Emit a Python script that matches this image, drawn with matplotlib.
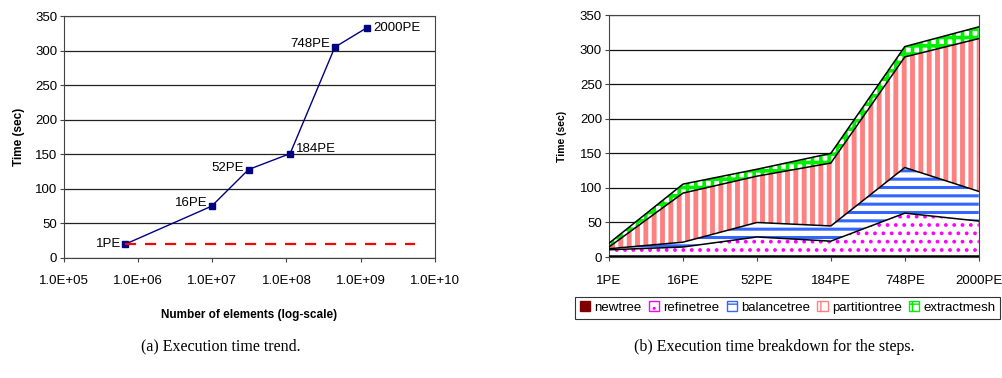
import numpy as np
import matplotlib.pyplot as plt
from matplotlib.patches import Patch

plt.rcParams['font.family'] = ['Liberation Sans', 'DejaVu Sans']

# (a) execution time trend
pe_labels = ["1PE", "16PE", "52PE", "184PE", "748PE", "2000PE"]
n_elements = [6.7e5, 9.8e6, 3.08e7, 1.12e8, 4.49e8, 1.21e9]
exec_time = [20, 75, 128, 151, 305, 333]
ideal_x = [6.7e5, 5.4e9]
ideal_y = [20, 20]
label_side = ["left", "left", "left", "right", "left", "right"]

# (b) breakdown per step
newtree = [1, 1, 1, 1, 1, 1]
refinetree = [9.5, 13.5, 28, 22, 62.5, 51]
balancetree = [1.5, 7, 21, 22, 66, 43]
partitiontree = [2.5, 71, 67, 91, 160, 221]
extractmesh = [5.5, 13, 10, 14, 15, 17]
steps = ["newtree", "refinetree", "balancetree", "partitiontree", "extractmesh"]

fig = plt.figure(figsize=(10.02, 3.78), dpi=100)

# ---- left chart
ax1 = fig.add_axes([0.0639, 0.3175, 0.370, 0.640])
ax1.plot(n_elements, exec_time, color="#000080", lw=1, marker="s", ms=5)
ax1.plot(ideal_x, ideal_y, color="#ff0000", lw=1.6, ls=(0, (5, 4)))
ax1.set_xscale("log")
ax1.set_xlim(1e5, 1e10)
ax1.set_ylim(0, 350)
ax1.set_yticks(np.arange(0, 351, 50))
ax1.set_xticks([10.0 ** k for k in range(5, 11)])
ax1.set_xticklabels(["1.0E+%02d" % k for k in range(5, 11)])
ax1.minorticks_off()
ax1.yaxis.grid(True, color="#222222", lw=0.9)
ax1.set_axisbelow(True)
for s in ax1.spines.values():
    s.set_color("#444444")
ax1.tick_params(labelsize=9.5, length=3, color="#444444", pad=2)
ax1.tick_params(axis="x", pad=9)
ax1.set_ylabel("Time (sec)", fontsize=8.5, fontweight="bold", labelpad=7)
ax1.set_xlabel("Number of elements (log-scale)", fontsize=8.5, fontweight="bold", labelpad=16)
offsets = {"1PE": (-3, 0), "16PE": (-3, 2), "52PE": (-3, 1),
           "184PE": (4, 3), "748PE": (-3, 2), "2000PE": (5, 0)}
for x, y, lab, side in zip(n_elements, exec_time, pe_labels, label_side):
    ax1.annotate(lab, (x, y), xytext=offsets[lab], textcoords="offset points",
                 ha="right" if side == "left" else "left", va="center", fontsize=9.5)

# ---- right chart
ax2 = fig.add_axes([0.6078, 0.320, 0.369, 0.640])
xs = np.arange(len(pe_labels))
layers = [newtree, refinetree, balancetree, partitiontree, extractmesh]
styles = [
    ("#800000", "#800000", "", 1.0),
    ("white", "#ff00ff", "..", 1.5),
    ("white", "#3366ff", "--", 2.2),
    ("white", "#ff8080", "||", 3.5),
    ("white", "#00ee00", "++", 2.6),
]
bottom = np.zeros(len(xs))
handles = []
for vals, name, (fc, hc, hatch, hlw) in zip(layers, steps, styles):
    top = bottom + np.array(vals)
    with plt.rc_context({"hatch.linewidth": hlw, "hatch.color": hc}):
        poly = ax2.fill_between(xs, bottom, top, facecolor=fc, edgecolor=hc,
                                hatch=hatch, lw=0, zorder=2)
        if hasattr(poly, "set_hatch_linewidth"):
            poly.set_hatch_linewidth(hlw)
        h = Patch(facecolor=fc, edgecolor=hc, hatch=hatch, lw=1)
        if hasattr(h, "set_hatch_linewidth"):
            h.set_hatch_linewidth(1.0)
    handles.append(h)
    ax2.plot(xs, top, color="black", lw=1.1, zorder=3)
    bottom = top
ax2.plot(xs, np.zeros(len(xs)), color="black", lw=1.2, zorder=3)

ax2.set_xlim(0, 5)
ax2.set_ylim(0, 350)
ax2.set_yticks(np.arange(0, 351, 50))
ax2.set_xticks(xs)
ax2.set_xticklabels(pe_labels)
ax2.yaxis.grid(True, color="#111111", lw=0.9)
ax2.set_axisbelow(True)
for s in ax2.spines.values():
    s.set_color("#444444")
ax2.tick_params(labelsize=9.5, length=3, color="#444444", pad=2)
ax2.tick_params(axis="x", pad=10)
ax2.set_ylabel("Time (sec)", fontsize=7.5, fontweight="bold", labelpad=9)

leg = fig.legend(handles, steps, loc="upper center", bbox_to_anchor=(0.786, 0.215),
                 ncol=5, fontsize=9.5, frameon=True, fancybox=False,
                 handlelength=0.8, handleheight=0.8, handletextpad=0.3,
                 columnspacing=0.55, borderpad=0.35, borderaxespad=0)
leg.get_frame().set_edgecolor("black")
leg.get_frame().set_linewidth(0.8)

fig.text(0.22, 0.083, "(a) Execution time trend.", ha="center", va="center",
         fontsize=11.5, family=["Liberation Serif", "DejaVu Serif"])
fig.text(0.773, 0.083, "(b) Execution time breakdown for the steps.", ha="center",
         va="center", fontsize=11.5, family=["Liberation Serif", "DejaVu Serif"])

fig.savefig("out.png", dpi=100)
